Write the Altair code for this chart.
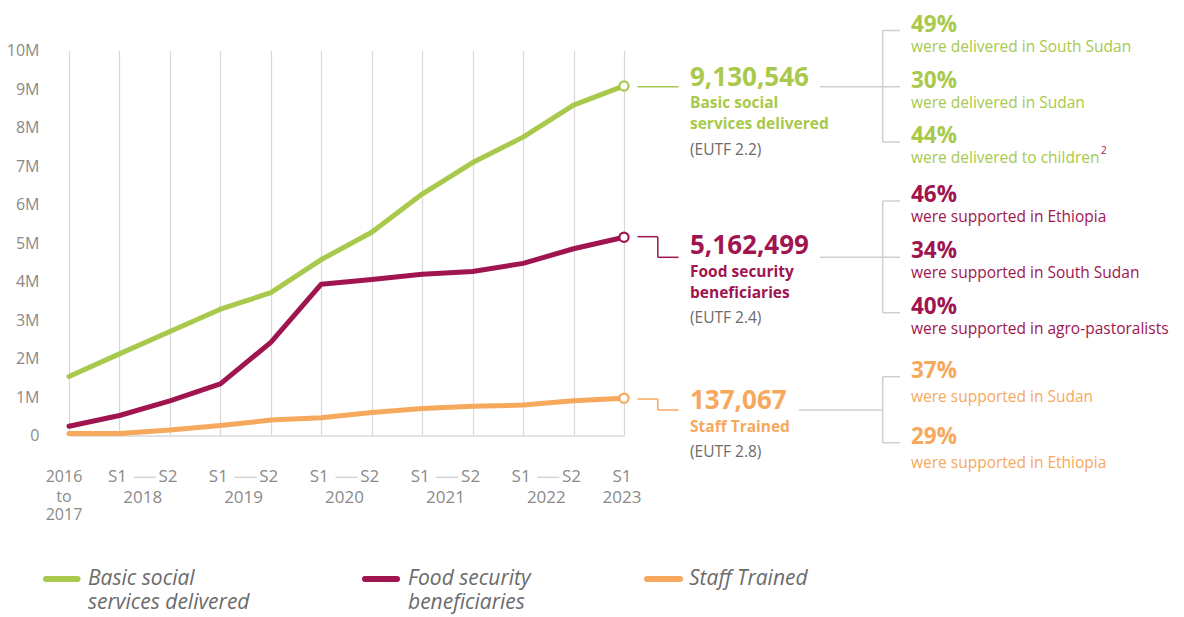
import altair as alt
import pandas as pd

# ---------------- data ----------------
periods = ["2016-2017", "S1 2018", "S2 2018", "S1 2019", "S2 2019", "S1 2020",
           "S2 2020", "S1 2021", "S2 2021", "S1 2022", "S2 2022", "S1 2023"]
basic = [1.53, 2.12, 2.70, 3.28, 3.71, 4.57, 5.28, 6.27, 7.09, 7.75, 8.58, 9.08]   # millions
food = [0.24, 0.52, 0.90, 1.34, 2.42, 3.93, 4.05, 4.19, 4.26, 4.47, 4.85, 5.15]
staff = [0.05, 0.05, 0.14, 0.26, 0.40, 0.46, 0.60, 0.70, 0.76, 0.79, 0.90, 0.97]

series_names = ["Basic social services delivered", "Food security beneficiaries", "Staff Trained"]
series_colors = ["#A8C94B", "#A0154F", "#F6A85D"]

y_ticks = [0, 1, 2, 3, 4, 5, 6, 7, 8, 9, 10]  # millions

big_numbers = ["9,130,546", "5,162,499", "137,067"]
big_labels = [["Basic social", "services delivered"], ["Food security", "beneficiaries"], ["Staff Trained"]]
codes = ["(EUTF 2.2)", "(EUTF 2.4)", "(EUTF 2.8)"]
pcts = [["49%", "30%", "44%"], ["46%", "34%", "40%"], ["37%", "29%"]]
pct_texts = [["were delivered in South Sudan", "were delivered in Sudan", "were delivered to children"],
             ["were supported in Ethiopia", "were supported in South Sudan", "were supported in agro-pastoralists"],
             ["were supported in Sudan", "were supported in Ethiopia"]]
legend_lines = [["Basic social", "services delivered"], ["Food security", "beneficiaries"], ["Staff Trained"]]

FONT = "Open Sans"
GRAY_TXT = "#8a8a8a"
GRID = "#d8d8d8"
CONN = "#cfcfcf"

# ---------------- layout ----------------
PAD_L, PAD_T = 61, 42.5
W, H = 555, 385
OX, OY = 8 + PAD_L, 8 + PAD_T   # page position of plot origin

rows = []
for name, vals in zip(series_names, [basic, food, staff]):
    for i, (p, v) in enumerate(zip(periods, vals)):
        rows.append({"series": name, "period": p, "idx": i, "value": v * 1e6})
df = pd.DataFrame(rows)
last = df[df["idx"] == len(periods) - 1]

color_scale = alt.Scale(domain=series_names, range=series_colors)
x_scale = alt.Scale(domain=[0, len(periods) - 1], nice=False, zero=False)
y_scale = alt.Scale(domain=[0, 1e7], nice=False)

AX_X = alt.Axis(values=list(range(len(periods))), grid=True, gridColor=GRID, gridWidth=1.2,
                labels=False, ticks=False, domain=True, domainColor=GRID, domainWidth=1.5,
                title=None)
AX_Y = alt.Axis(values=[t * 1e6 for t in y_ticks], grid=False, ticks=False, domain=False,
                labelExpr="datum.value == 0 ? '0' : (datum.value / 1000000) + 'M'",
                labelColor=GRAY_TXT, labelFont=FONT, labelFontSize=16, labelPadding=30,
                labelOverlap=False, labelBound=False, title=None)
XS = alt.X("idx:Q", scale=x_scale, axis=AX_X)
YS = alt.Y("value:Q", scale=y_scale, axis=AX_Y)

# tick labels below the axis
sem_rows = []
for i, p in enumerate(periods):
    if p.startswith("S"):
        sem_rows.append({"idx": i, "label": p.split(" ")[0]})
sem_df = pd.DataFrame(sem_rows)

year_rows = []
dash_rows = []
years = sorted({p.split(" ")[1] for p in periods if p.startswith("S")})
for yr in years:
    ids = [i for i, p in enumerate(periods) if p.endswith(yr) and p.startswith("S")]
    mid = sum(ids) / len(ids)
    year_rows.append({"idx": mid, "label": yr})
    if len(ids) == 2:
        dash_rows.append({"idx": mid})
year_df = pd.DataFrame(year_rows)
dash_df = pd.DataFrame(dash_rows)
first_lbl = periods[0].split("-")
first_parts = [first_lbl[0], "to", first_lbl[1]]

lines = alt.Chart(df).mark_line(strokeWidth=5, strokeCap="round", strokeJoin="round").encode(
    x=XS, y=YS,
    color=alt.Color("series:N", scale=color_scale, legend=None),
    order=alt.Order("idx:Q"),
)

points = alt.Chart(last).mark_point(shape="circle", filled=True, fill="white", size=85,
                                    strokeWidth=2.2, opacity=1).encode(
    x=XS, y=YS,
    stroke=alt.Color("series:N", scale=color_scale, legend=None),
)

sem_text = alt.Chart(sem_df).mark_text(font=FONT, fontSize=17, color=GRAY_TXT, baseline="middle", dx=-2).encode(
    x=XS, y=alt.value(477.3 - OY), text="label:N")
year_text = alt.Chart(year_df).mark_text(font=FONT, fontSize=17, color=GRAY_TXT, baseline="middle", dx=-2).encode(
    x=XS, y=alt.value(497.8 - OY), text="label:N")
dash = alt.Chart(dash_df).mark_rule(color=CONN, strokeWidth=1.3, xOffset=-11, x2Offset=11).encode(
    x=XS, x2="idx:Q", y=alt.value(477.3 - OY))

layers = [lines, points, sem_text, year_text, dash]
for s, yy in zip(first_parts, [477.3, 496.5, 514.5]):
    layers.append(alt.Chart(pd.DataFrame([{"idx": 0, "label": s}])).mark_text(
        font=FONT, fontSize=16, color=GRAY_TXT, baseline="middle", dx=-5).encode(
        x=XS, y=alt.value(yy - OY), text="label:N"))


def one():
    return alt.Chart(alt.Data(values=[{"k": 1}]))


def txt(s, px, py, color, size, weight="normal", style="normal"):
    return one().mark_text(align="left", baseline="middle", font=FONT, fontSize=size,
                           fontWeight=weight, fontStyle=style, color=color).encode(
        x=alt.value(px - OX), y=alt.value(py - OY), text=alt.value(s))


def seg(x1, y1, x2, y2, color, width=1.5, cap="butt"):
    return one().mark_rule(color=color, strokeWidth=width, strokeCap=cap).encode(
        x=alt.value(x1 - OX), x2=alt.value(x2 - OX), y=alt.value(y1 - OY), y2=alt.value(y2 - OY))


# annotation geometry (page coords)
num_y = [77.5, 246, 401]
label_y = [[103, 124], [271.5, 292.5], [426.5]]
code_y = [150, 317.7, 451.7]
pct_y = [[24.5, 81, 136], [195, 250.7, 306.7], [370.7, 436.7]]
ptxt_y = [[46.7, 103.3, 158.3], [217.3, 273.3, 329.3], [396.7, 462.7]]
conn_from = [820, 820, 799]
conn_y = [86.7, 257.3, 410]
circ_y = [86.7, 236.7, 399]
BR_X, TICK_X = 882.6, 900
NUM_X, PCT_X = 690, 911

for k in range(3):
    c = series_colors[k]
    layers.append(txt(big_numbers[k], NUM_X, num_y[k], c, 26, "bold"))
    for s, yy in zip(big_labels[k], label_y[k]):
        layers.append(txt(s, NUM_X, yy, c, 15.5, "bold"))
    layers.append(txt(codes[k], NUM_X, code_y[k], "#6b6b6b", 15.5))
    for s, yy in zip(pcts[k], pct_y[k]):
        layers.append(txt(s, PCT_X, yy, c, 22.5, "bold"))
    for s, yy in zip(pct_texts[k], ptxt_y[k]):
        layers.append(txt(s, PCT_X, yy, c, 15.5))
    # coloured connector from end point
    if circ_y[k] == conn_y[k]:
        layers.append(seg(637.5, circ_y[k], 678.6, circ_y[k], c))
    else:
        layers.append(seg(637.5, circ_y[k], 657.8, circ_y[k], c))
        layers.append(seg(657.8, circ_y[k], 657.8, conn_y[k], c))
        layers.append(seg(657.8, conn_y[k], 678.6, conn_y[k], c))
    # grey bracket
    top, bot = pct_y[k][0] + 6, pct_y[k][-1] + 6
    layers.append(seg(conn_from[k], conn_y[k], TICK_X if len(pcts[k]) == 3 else BR_X, conn_y[k], CONN))
    layers.append(seg(BR_X, top, BR_X, bot, CONN))
    layers.append(seg(BR_X, top, TICK_X, top, CONN))
    layers.append(seg(BR_X, bot, TICK_X, bot, CONN))

# superscript footnote marker
layers.append(txt("2", 1101, 151, "#A0154F", 10))

# legend
leg_sw = [(46, 77.5), (365, 397), (647, 680)]
leg_tx = [88, 408, 689]
leg_y = [579.3, 603.3]
for k in range(3):
    layers.append(seg(leg_sw[k][0], 579, leg_sw[k][1], 579, series_colors[k], 6, "round"))
    for s, yy in zip(legend_lines[k], leg_y):
        layers.append(txt(s, leg_tx[k], yy, "#6b6b6b", 21, "normal", "italic"))

chart = alt.layer(*layers).properties(
    width=W, height=H,
    autosize=alt.AutoSizeParams(type="none"),
    padding={"left": PAD_L, "top": PAD_T, "right": 1168 - PAD_L - W, "bottom": 179},
).configure_view(stroke=None)

chart.save("out.html", embed_options={"renderer": "svg", "actions": False})
